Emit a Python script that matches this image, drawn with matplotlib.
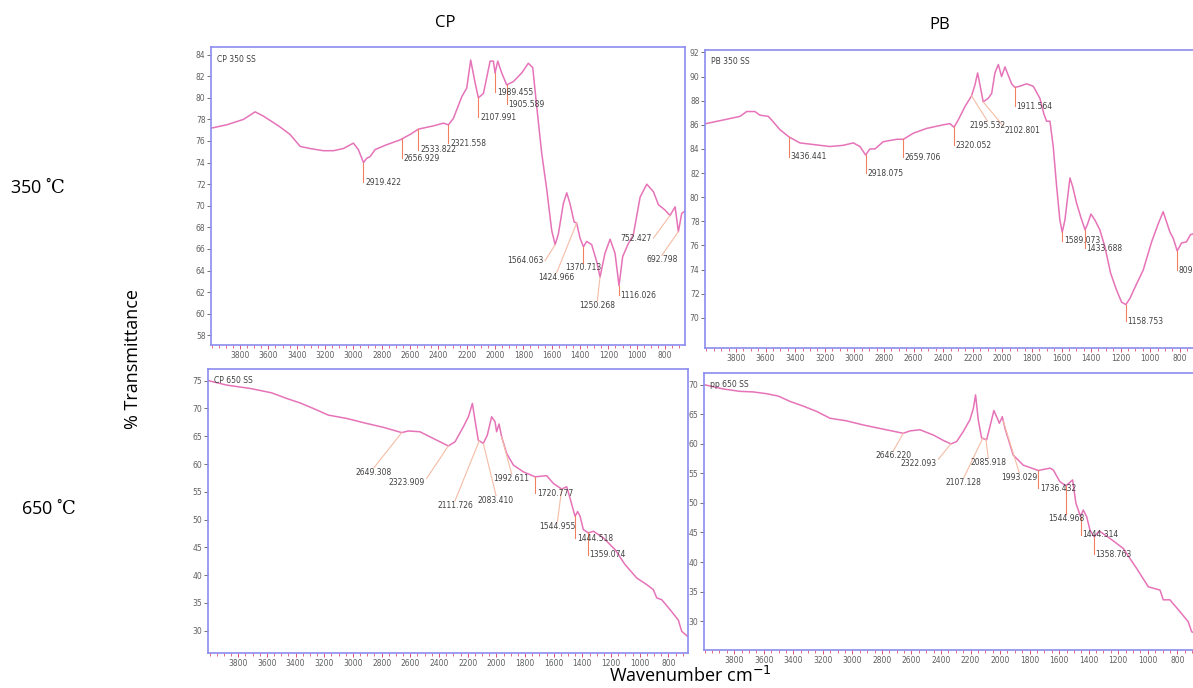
import matplotlib
matplotlib.use("Agg")
import matplotlib.pyplot as plt
import numpy as np
from matplotlib.ticker import FixedLocator, MultipleLocator

plt.rcParams["mathtext.fontset"] = "dejavuserif"

# ---- spectra (wavenumber cm-1, % transmittance) ----
cp350_wn = [4000, 3894, 3776, 3729, 3694, 3635, 3576, 3518, 3447, 3376, 3306, 3212,
            3141, 3071, 3000, 2965, 2929, 2906, 2882, 2847, 2776, 2671, 2600, 2541,
            2435, 2365, 2329, 2294, 2235, 2200, 2172, 2141, 2118, 2082, 2035, 2012,
            2000, 1981, 1953, 1918, 1871, 1812, 1765, 1734, 1706, 1671, 1635, 1600,
            1576, 1553, 1518, 1494, 1471, 1442, 1424, 1400, 1376, 1353, 1318, 1282,
            1259, 1224, 1188, 1153, 1125, 1099, 1059, 1024, 976, 929, 882, 847, 800,
            765, 729, 706, 682, 660]
cp350_t = [77.2, 77.5, 78.0, 78.4, 78.7, 78.3, 77.8, 77.3, 76.6, 75.5, 75.3, 75.1,
           75.1, 75.3, 75.8, 75.2, 74.0, 74.4, 74.55, 75.2, 75.6, 76.1, 76.6, 77.1,
           77.4, 77.65, 77.5, 78.1, 80.1, 80.9, 83.5, 81.4, 80.0, 80.4, 83.4, 83.4,
           82.3, 83.4, 82.3, 81.2, 81.5, 82.3, 83.2, 82.8, 79.2, 74.9, 71.5, 67.7,
           66.4, 67.4, 70.2, 71.2, 70.2, 68.5, 68.4, 67.0, 66.2, 66.7, 66.4, 64.8,
           63.4, 65.6, 66.9, 65.6, 62.6, 65.3, 66.5, 67.3, 70.8, 72.0, 71.3, 70.1, 69.6,
           69.1, 69.9, 67.6, 69.3, 69.5]

pb350_wn = [4003, 3886, 3773, 3728, 3672, 3638, 3582, 3559, 3503, 3442, 3368, 3300,
            3165, 3075, 3007, 2962, 2924, 2895, 2861, 2805, 2714, 2669, 2602, 2512,
            2399, 2354, 2327, 2298, 2253, 2208, 2185, 2167, 2151, 2129, 2095, 2072,
            2050, 2027, 2005, 1982, 1960, 1937, 1915, 1881, 1836, 1791, 1746, 1719,
            1701, 1678, 1656, 1633, 1611, 1595, 1577, 1543, 1525, 1498, 1471, 1441,
            1426, 1401, 1374, 1341, 1307, 1268, 1228, 1194, 1165, 1138, 1093, 1048,
            991, 946, 913, 867, 845, 818, 789, 755, 728, 712, 680, 650]
pb350_t = [86.1, 86.4, 86.7, 87.1, 87.1, 86.8, 86.7, 86.4, 85.6, 85.0, 84.5, 84.4,
           84.2, 84.3, 84.5, 84.2, 83.5, 84.0, 84.0, 84.6, 84.8, 84.8, 85.3, 85.7,
           86.0, 86.1, 85.8, 86.4, 87.5, 88.4, 89.3, 90.3, 89.3, 87.9, 88.2, 88.6,
           90.3, 91.0, 90.0, 90.8, 90.1, 89.4, 89.1, 89.2, 89.4, 89.2, 88.2, 86.9,
           86.3, 86.3, 84.2, 80.9, 78.1, 77.1, 78.1, 81.6, 80.9, 79.5, 78.4, 77.3,
           77.7, 78.6, 78.1, 77.3, 75.9, 73.7, 72.3, 71.3, 71.1, 71.6, 72.8, 73.95,
           76.3, 77.8, 78.8, 77.1, 76.6, 75.55, 76.2, 76.3, 76.9, 76.95, 77.1, 77.0]

cp650_wn = [4009, 3881, 3719, 3660, 3567, 3463, 3370, 3277, 3172, 3044, 2905, 2788,
            2660, 2614, 2533, 2440, 2335, 2288, 2230, 2195, 2167, 2149, 2126, 2091,
            2063, 2033, 2009, 1998, 1981, 1963, 1928, 1881, 1812, 1730, 1649, 1602,
            1544, 1509, 1486, 1451, 1433, 1416, 1393, 1358, 1323, 1253, 1172, 1102,
            1021, 951, 905, 881, 847, 788, 730, 707, 667]
cp650_t = [75.0, 74.2, 73.6, 73.3, 72.8, 71.8, 71.0, 70.0, 68.8, 68.2, 67.3, 66.6,
           65.65, 65.95, 65.8, 64.6, 63.25, 64.0, 66.7, 68.5, 70.9, 67.9, 64.3, 63.7,
           65.2, 68.5, 67.6, 65.8, 67.2, 64.9, 61.9, 59.8, 58.6, 57.7, 57.9, 56.5,
           55.5, 55.9, 53.85, 50.6, 51.45, 50.6, 48.2, 47.6, 47.9, 46.7, 44.6, 41.9,
           39.5, 38.3, 37.4, 35.9, 35.6, 33.8, 31.9, 29.9, 29.0]

pp650_wn = [3999, 3874, 3762, 3671, 3581, 3502, 3423, 3333, 3242, 3152, 3039, 2926,
            2791, 2656, 2610, 2543, 2452, 2385, 2333, 2294, 2249, 2204, 2181, 2166,
            2148, 2125, 2091, 2069, 2042, 2019, 2005, 1985, 1967, 1911, 1843, 1741,
            1662, 1640, 1595, 1554, 1509, 1486, 1455, 1437, 1414, 1391, 1364, 1328,
            1256, 1166, 1075, 996, 917, 895, 850, 782, 726, 703, 650]
pp650_t = [70.0, 69.3, 68.9, 68.8, 68.5, 68.1, 67.2, 66.4, 65.5, 64.35, 63.9, 63.2,
           62.5, 61.8, 62.2, 62.4, 61.5, 60.6, 60.0, 60.4, 62.1, 64.1, 66.0, 68.3,
           64.1, 61.0, 60.7, 62.9, 65.65, 64.35, 63.5, 64.6, 62.65, 58.1, 56.4, 55.5,
           55.9, 55.6, 53.6, 52.9, 53.9, 49.9, 47.7, 48.8, 47.7, 45.4, 44.3, 45.25,
           44.0, 42.3, 38.9, 35.8, 35.25, 33.6, 33.6, 31.6, 29.9, 28.2, 27.6]

# peak labels: (label, peak wavenumber, leader end x, leader end y, ha, va)
cp350_peaks = [("2919.422", 2929, 2929, 72.2, "left", "center"),
               ("2656.929", 2656, 2656, 74.4, "left", "center"),
               ("2533.822", 2541, 2541, 75.2, "left", "center"),
               ("2321.558", 2329, 2329, 75.8, "left", "center"),
               ("2107.991", 2118, 2118, 78.2, "left", "center"),
               ("1989.455", 2000, 2000, 80.5, "left", "center"),
               ("1905.589", 1918, 1918, 79.4, "left", "center"),
               ("1564.063", 1576, 1647, 64.9, "right", "center"),
               ("1424.966", 1424, 1565, 63.8, "center", "top"),
               ("1370.713", 1376, 1376, 64.7, "center", "top"),
               ("1250.268", 1259, 1278, 61.2, "center", "top"),
               ("1116.026", 1125, 1125, 61.7, "left", "center"),
               ("752.427", 765, 882, 67.0, "right", "center"),
               ("692.798", 706, 823, 65.4, "center", "top")]
pb350_peaks = [("3436.441", 3442, 3442, 83.35, "left", "center"),
               ("2918.075", 2924, 2924, 82.0, "left", "center"),
               ("2659.706", 2669, 2669, 83.3, "left", "center"),
               ("2320.052", 2327, 2327, 84.3, "left", "center"),
               ("2195.532", 2208, 2100, 86.3, "center", "top"),
               ("2102.801", 2129, 1994, 85.9, "left", "top"),
               ("1911.564", 1915, 1915, 87.55, "left", "center"),
               ("1589.073", 1595, 1595, 76.4, "left", "center"),
               ("1433.688", 1441, 1441, 75.75, "left", "center"),
               ("1158.753", 1165, 1165, 69.7, "left", "center"),
               ("809.046", 818, 818, 73.95, "left", "center")]
cp650_peaks = [("2649.308", 2660, 2858, 59.2, "center", "top"),
               ("2323.909", 2335, 2486, 57.4, "right", "top"),
               ("2111.726", 2119, 2288, 53.4, "center", "top"),
               ("2083.410", 2091, 2002, 54.3, "center", "top"),
               ("1992.611", 1963, 1893, 58.2, "center", "top"),
               ("1720.777", 1730, 1730, 54.7, "left", "center"),
               ("1544.955", 1544, 1574, 49.6, "center", "top"),
               ("1444.518", 1451, 1451, 46.65, "left", "center"),
               ("1359.074", 1363, 1363, 43.65, "left", "center")]
pp650_peaks = [("2646.220", 2656, 2723, 58.8, "center", "top"),
               ("2322.093", 2333, 2418, 57.4, "right", "top"),
               ("2107.128", 2118, 2245, 54.3, "center", "top"),
               ("2085.918", 2096, 2080, 57.6, "center", "top"),
               ("1993.029", 1978, 1870, 55.1, "center", "top"),
               ("1736.432", 1741, 1741, 52.5, "left", "center"),
               ("1544.968", 1554, 1554, 48.1, "center", "top"),
               ("1444.314", 1455, 1455, 44.6, "left", "center"),
               ("1358.763", 1364, 1364, 41.3, "left", "center")]

x_ticks = list(range(3800, 799, -200))

LINE = "#e673b8"
FRAME = "#8c8cf0"
TXT = "#404040"

fig = plt.figure(figsize=(11.93, 6.88), dpi=100)


def draw_panel(rect, wn, t, peaks, name, xlim, ylim, yticks):
    ax = fig.add_axes(rect)
    ax.plot(wn, t, color=LINE, linewidth=1.1)
    ax.set_xlim(*xlim)
    ax.set_ylim(*ylim)
    for lab, pk, ex, ey, ha, va in peaks:
        py = np.interp(pk, wn[::-1], t[::-1])
        vertical = abs(ex - pk) < 1
        ax.plot([pk, ex], [py, ey], lw=0.8,
                color="#f08060" if vertical else "#f5bca5")
        dx = {"left": 1.2, "right": -1.2, "center": 0}[ha]
        ax.annotate(lab, (ex, ey), xytext=(dx, 0), textcoords="offset points",
                    fontsize=5.5, color=TXT, ha=ha, va=va)
    ax.text(0.012, 0.975, name, transform=ax.transAxes, fontsize=5.5, color=TXT,
            ha="left", va="top")
    ax.xaxis.set_major_locator(FixedLocator(x_ticks))
    ax.xaxis.set_minor_locator(MultipleLocator(50))
    ax.yaxis.set_major_locator(FixedLocator(yticks))
    ax.tick_params(axis="both", which="major", labelsize=5.5, labelcolor="#606060",
                   length=3, width=0.7, color="#e05070", pad=1)
    ax.tick_params(axis="x", which="minor", length=2, width=0.6, color="#e05070")
    ax.tick_params(axis="y", which="major", color="#707070")
    for sp in ax.spines.values():
        sp.set_color(FRAME)
        sp.set_linewidth(1.2)
    return ax


draw_panel([0.1769, 0.4985, 0.3973, 0.4331], cp350_wn, cp350_t, cp350_peaks,
           "CP 350 SS", (4005, 659), (57.1, 84.7), list(range(58, 85, 2)))
draw_panel([0.5910, 0.4942, 0.4166, 0.4331], pb350_wn, pb350_t, pb350_peaks,
           "PB 350 SS", (4009, 650), (67.5, 92.2), list(range(70, 93, 2)))
draw_panel([0.1744, 0.0509, 0.4023, 0.4128], cp650_wn, cp650_t, cp650_peaks,
           "CP 650 SS", (4011, 663), (26, 77.1), list(range(30, 76, 5)))
draw_panel([0.5901, 0.0552, 0.4153, 0.4026], pp650_wn, pp650_t, pp650_peaks,
           "pp 650 SS", (4005, 650), (25.1, 72), list(range(30, 71, 5)))

font = ["Open Sans", "DejaVu Sans"]
fig.text(445 / 1193, 1 - 23 / 688, "CP", fontsize=12, family=font, ha="center", va="center")
fig.text(940 / 1193, 1 - 25 / 688, "PB", fontsize=12, family=font, ha="center", va="center")
fig.text(10 / 1193, 1 - 187 / 688, "350 \u02da$\\mathrm{C}$", fontsize=13, family=font,
         ha="left", va="center")
fig.text(21 / 1193, 1 - 508 / 688, "650 \u02da$\\mathrm{C}$", fontsize=13, family=font,
         ha="left", va="center")
fig.text(133 / 1193, 1 - 359 / 688, "% Transmittance", fontsize=13, family=font,
         rotation=90, ha="center", va="center")
fig.text(690 / 1193, 1 - 676 / 688, "Wavenumber cm$^{\\mathsf{-1}}$", fontsize=13,
         family=font, ha="center", va="center")

fig.savefig("out.png", dpi=100)
